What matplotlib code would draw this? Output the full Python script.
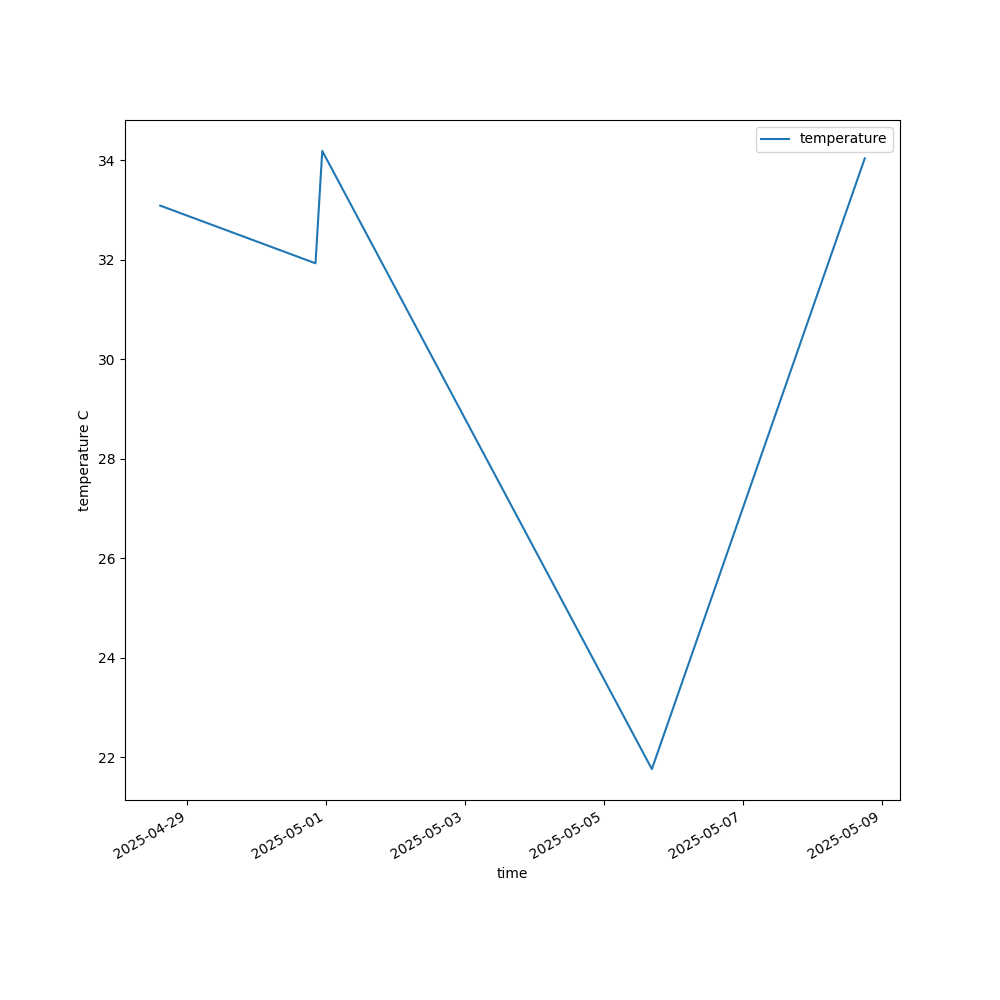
import pandas as pd
import matplotlib
matplotlib.use('Agg')
import matplotlib.pyplot as plt

times = ["2025-04-28 14:40", "2025-04-30 20:20", "2025-04-30 22:40",
         "2025-05-05 16:35", "2025-05-08 18:10"]
temps = [33.09, 31.93, 34.19, 21.76, 34.04]

t = pd.to_datetime(times)

fig, ax = plt.subplots(figsize=(10, 10), dpi=100)
ax.plot(t, temps, label="temperature")
ax.set_xlabel("time")
ax.set_ylabel("temperature C")
ax.legend(loc="upper right")
fig.autofmt_xdate()
fig.savefig("out.png")
